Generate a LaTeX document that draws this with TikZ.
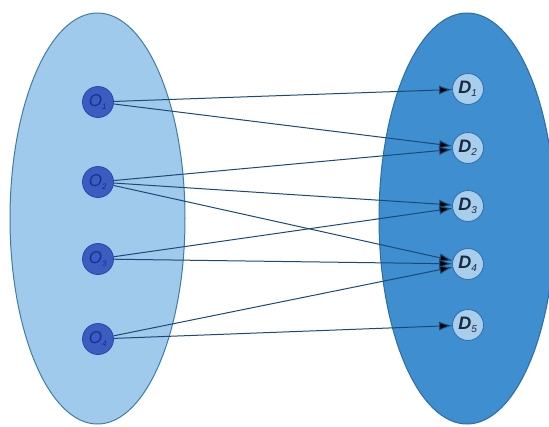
\documentclass[tikz,border=0pt]{standalone}
\usepackage{fontspec}
\setsansfont{Liberation Sans}
\usetikzlibrary{arrows.meta}
\definecolor{leftfill}{HTML}{9FCAEB}
\definecolor{leftline}{HTML}{3E7EA6}
\definecolor{rightfill}{HTML}{3E8ED0}
\definecolor{rightline}{HTML}{2B6EA6}
\definecolor{ofill}{HTML}{3B5CC0}
\definecolor{oline}{HTML}{2C46A6}
\definecolor{otext}{HTML}{1E2E8C}
\definecolor{dfill}{HTML}{A9CEEC}
\definecolor{dline}{HTML}{2E6DB0}
\definecolor{dtext}{HTML}{1A2A40}
\definecolor{edgecol}{HTML}{1C4A78}
\tikzset{
  onode/.style={circle, fill=ofill, draw=oline, line width=0.8pt, minimum size=31pt, inner sep=0pt,
    text=otext, font=\sffamily\itshape\fontsize{17}{17}\selectfont},
  dnode/.style={circle, fill=dfill, draw=dline, line width=0.8pt, minimum size=31pt, inner sep=0pt,
    text=dtext, font=\sffamily\bfseries\itshape\fontsize{18}{18}\selectfont},
  link/.style={draw=edgecol, line width=1pt, -{Latex[length=13pt,width=9pt,fill=black]}},
}
\begin{document}
\begin{tikzpicture}[x=1pt,y=-1pt]
\useasboundingbox (0,0) rectangle (549,426);
\fill[white] (0,0) rectangle (549,426);
\begin{scope}
\clip (0,0) rectangle (549,426);
\filldraw[fill=leftfill, draw=leftline, line width=1pt] (97.5,218.5) ellipse [x radius=87.5, y radius=205.5];
\filldraw[fill=rightfill, draw=rightline, line width=1pt] (467,218.5) ellipse [x radius=88, y radius=205.5];
\end{scope}
\node[onode] (o1) at (98,102) {O\textsubscript{\fontsize{8}{8}\selectfont 1}};
\node[onode] (o2) at (98,182) {O\textsubscript{\fontsize{8}{8}\selectfont 2}};
\node[onode] (o3) at (98,259) {O\textsubscript{\fontsize{8}{8}\selectfont 3}};
\node[onode] (o4) at (98,339) {O\textsubscript{\fontsize{8}{8}\selectfont 4}};
\node[dnode] (d1) at (468,89) {D\textsubscript{\mdseries\fontsize{10}{10}\selectfont 1}};
\node[dnode] (d2) at (468,148) {D\textsubscript{\mdseries\fontsize{10}{10}\selectfont 2}};
\node[dnode] (d3) at (468,206) {D\textsubscript{\mdseries\fontsize{10}{10}\selectfont 3}};
\node[dnode] (d4) at (468,264) {D\textsubscript{\mdseries\fontsize{10}{10}\selectfont 4}};
\node[dnode] (d5) at (468,325) {D\textsubscript{\mdseries\fontsize{10}{10}\selectfont 5}};
\draw[link] (o1) -- (d1);
\draw[link] (o1) -- (d2);
\draw[link] (o2) -- (d2);
\draw[link] (o2) -- (d3);
\draw[link] (o2) -- (d4);
\draw[link] (o3) -- (d3);
\draw[link] (o3) -- (d4);
\draw[link] (o4) -- (d4);
\draw[link] (o4) -- (d5);
\end{tikzpicture}
\end{document}
